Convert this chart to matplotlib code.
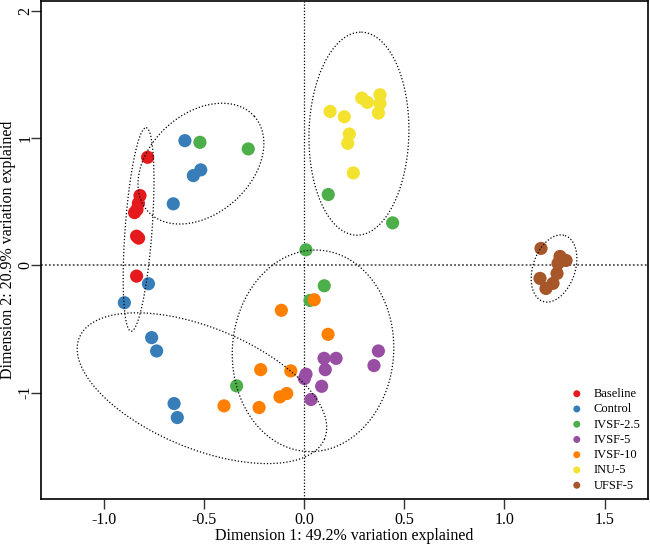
import numpy as np
import matplotlib
matplotlib.use('Agg')
import matplotlib.pyplot as plt

plt.rcParams['font.family'] = ['Liberation Serif', 'DejaVu Serif']

# 그룹 이름과 색
groups = ['Baseline', 'Control', 'IVSF-2.5', 'IVSF-5', 'IVSF-10', 'INU-5', 'UFSF-5']
colors = ['#E41A1C', '#377EB8', '#4DAF4A', '#984EA3', '#FF7F00', '#F3E22E', '#A65628']

# 좌표 (Dimension 1, Dimension 2)
baseline_x = [-0.780, -0.818, -0.826, -0.833, -0.845, -0.835, -0.825, -0.835]
baseline_y = [0.851, 0.550, 0.490, 0.440, 0.416, 0.230, 0.215, -0.084]
control_x = [-0.594, -0.515, -0.552, -0.652, -0.776, -0.896, -0.760, -0.735, -0.648, -0.632]
control_y = [0.982, 0.752, 0.707, 0.485, -0.144, -0.293, -0.568, -0.673, -1.087, -1.197]
ivsf25_x = [-0.519, -0.278, 0.010, 0.121, 0.442, 0.101, 0.030, -0.336]
ivsf25_y = [0.969, 0.917, 0.123, 0.558, 0.335, -0.160, -0.275, -0.948]
ivsf5_x = [0.371, 0.349, 0.160, 0.100, 0.106, 0.088, 0.010, 0.002, 0.035]
ivsf5_y = [-0.673, -0.788, -0.731, -0.731, -0.820, -0.951, -0.856, -0.890, -1.055]
ivsf10_x = [0.051, -0.113, 0.120, -0.216, -0.066, -0.086, -0.120, -0.224, -0.399]
ivsf10_y = [-0.270, -0.353, -0.542, -0.820, -0.830, -1.008, -1.034, -1.118, -1.105]
inu5_x = [0.288, 0.316, 0.379, 0.379, 0.371, 0.130, 0.201, 0.226, 0.218, 0.246]
inu5_y = [1.317, 1.283, 1.343, 1.275, 1.199, 1.212, 1.170, 1.034, 0.961, 0.728]
ufsf5_x = [1.182, 1.277, 1.307, 1.267, 1.262, 1.177, 1.207, 1.242]
ufsf5_y = [0.134, 0.071, 0.039, 0.016, -0.063, -0.102, -0.181, -0.141]

xs = [baseline_x, control_x, ivsf25_x, ivsf5_x, ivsf10_x, inu5_x, ufsf5_x]
ys = [baseline_y, control_y, ivsf25_y, ivsf5_y, ivsf10_y, inu5_y, ufsf5_y]

# 타원: 중심, 장축 반벡터, 단축 반벡터 (데이터 단위)
ellipses = [
    (-0.825, 0.283, 0.0374, 0.801, 0.0671, -0.0078),
    (-0.514, 0.801, 0.266, 0.373, 0.1666, -0.2946),
    (0.274, 1.037, 0.0125, 0.799, 0.249, -0.0094),
    (1.247, -0.024, 0.0549, 0.259, 0.0998, -0.0526),
    (-0.509, -0.966, 0.6115, -0.399, -0.1157, -0.439),
    (0.045, -0.672, 0.0334, 0.792, 0.4015, -0.0416),
]

fig = plt.figure(figsize=(6.5, 5.45), dpi=100)
ax = fig.add_axes([0.063, 0.0844, 0.934, 0.914])

ax.axhline(0, color='#555555', linestyle=(0, (1, 1.2)), lw=1.3, zorder=1)
ax.axvline(0, color='black', linestyle=(0, (1, 1.5)), lw=0.9, zorder=1)

for g, c, x, y in zip(groups, colors, xs, ys):
    ax.scatter(x, y, s=90, color=c, edgecolors='none', label=g, zorder=2)

t = np.linspace(0, 2 * np.pi, 400)
for cx, cy, ux, uy, vx, vy in ellipses:
    ex = cx + ux * np.cos(t) + vx * np.sin(t)
    ey = cy + uy * np.cos(t) + vy * np.sin(t)
    ax.plot(ex, ey, color='black', linestyle=(0, (1, 1.6)), lw=0.9, zorder=3)

ax.set_xlim(-1.312, 1.716)
ax.set_ylim(-1.838, 2.082)
ax.set_xticks([-1.0, -0.5, 0.0, 0.5, 1.0, 1.5])
ax.set_xticklabels(['-1.0', '-0.5', '0.0', '0.5', '1.0', '1.5'])
ax.set_yticks([-1, 0, 1, 2])
ax.set_yticklabels(['-1', '0', '1', '2'], rotation=90, va='center', ha='center')
ax.tick_params(direction='out', length=7, width=1, labelsize=11.5, pad=2, color='#333333')
ax.tick_params(axis='y', pad=4)
for sp in ax.spines.values():
    sp.set_linewidth(1.2)

ax.set_xlabel('Dimension 1: 49.2% variation explained', fontsize=11.5, labelpad=0)
ax.set_ylabel('Dimension 2: 20.9% variation explained', fontsize=11.5, va='center')
ax.yaxis.set_label_coords(-0.054, 0.5)

leg = ax.legend(loc='lower right', frameon=False, fontsize=9, markerscale=0.53,
                handlelength=1.0, handletextpad=0.85, labelspacing=0.26,
                borderaxespad=0.2)

plt.savefig('out.png', dpi=100)
